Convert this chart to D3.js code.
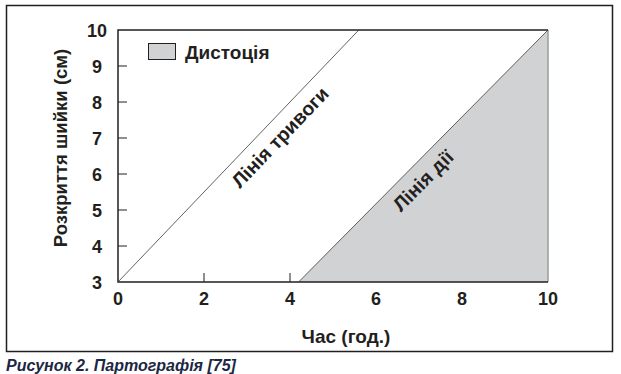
<!DOCTYPE html>
<html>
<head>
<meta charset="utf-8">
<script src="https://cdn.jsdelivr.net/npm/d3@7.9.0/dist/d3.min.js"></script>
<style>
  body { margin: 0; background: #fff; }
  svg { display: block; font-family: 'Liberation Sans', Arial, sans-serif; }
  .tick-label { font-size: 18px; font-weight: bold; fill: #231f20; }
</style>
</head>
<body>
<svg width="621" height="374"></svg>
<script>
// partograph data
const xTicks = [0, 2, 4, 6, 8, 10];
const yTicks = [3, 4, 5, 6, 7, 8, 9, 10];
const alertHours = [0, 5.6];
const alertDilation = [3, 10];
const actionHours = [4.2, 10];
const actionDilation = [3, 10];
const lineLabels = ['Лінія тривоги', 'Лінія дії'];
const labelDilation = [7.35, 6.15]; // where along each line the label sits
const legendLabel = 'Дистоція';

const svg = d3.select('svg');
const margin = { left: 118, right: 73, top: 30, bottom: 92 };
const width = 621 - margin.left - margin.right;
const height = 374 - margin.top - margin.bottom;

const x = d3.scaleLinear().domain([0, 10]).range([margin.left, margin.left + width]);
const y = d3.scaleLinear().domain([3, 10]).range([margin.top + height, margin.top]);

// outer frame
svg.append('rect')
  .attr('x', 6.5).attr('y', 5.5)
  .attr('width', 606).attr('height', 346)
  .attr('fill', 'none').attr('stroke', '#231f20').attr('stroke-width', 1.5);

// ticks (inward)
const g = svg.append('g');
g.selectAll('.xt').data(xTicks.slice(1, -1)).join('line')
  .attr('x1', (d) => x(d)).attr('x2', (d) => x(d))
  .attr('y1', y(3)).attr('y2', y(3) - 9)
  .attr('stroke', '#231f20').attr('stroke-width', 1);
g.selectAll('.yt').data(yTicks.slice(1, -1)).join('line')
  .attr('x1', x(0)).attr('x2', x(0) + 9)
  .attr('y1', (d) => y(d)).attr('y2', (d) => y(d))
  .attr('stroke', '#231f20').attr('stroke-width', 1);

// dystocia area right of the action line
const areaPts = actionHours.map((h, i) => [h, actionDilation[i]]);
areaPts.push([d3.max(xTicks), d3.min(yTicks)]);
svg.append('path')
  .attr('d', d3.line().x((d) => x(d[0])).y((d) => y(d[1]))(areaPts) + 'Z')
  .attr('fill', '#d1d2d4');
svg.append('line')
  .attr('x1', x(10)).attr('x2', x(10)).attr('y1', y(10)).attr('y2', y(3))
  .attr('stroke', '#9a9b9d').attr('stroke-width', 1.5);

// plot frame: top, left, bottom
svg.append('path')
  .attr('d', `M${x(10)},${y(10)}H${x(0)}V${y(3)}H${x(10)}`)
  .attr('fill', 'none').attr('stroke', '#231f20').attr('stroke-width', 1.5);

// alert and action lines
const lines = [
  alertHours.map((h, i) => [h, alertDilation[i]]),
  actionHours.map((h, i) => [h, actionDilation[i]]),
];
const lineGen = d3.line().x((d) => x(d[0])).y((d) => y(d[1]));
lines.forEach((pts) => {
  svg.append('path').attr('d', lineGen(pts))
    .attr('fill', 'none').attr('stroke', '#3a3a3a').attr('stroke-width', 0.8);
});

// labels along the lines
lines.forEach((pts, i) => {
  const [p0, p1] = pts;
  const dx = x(p1[0]) - x(p0[0]);
  const dy = y(p1[1]) - y(p0[1]);
  const ang = Math.atan2(dy, dx);
  const t = (labelDilation[i] - p0[1]) / (p1[1] - p0[1]);
  const h = p0[0] + t * (p1[0] - p0[0]);
  svg.append('text')
    .attr('transform', `translate(${x(h)},${y(labelDilation[i])}) rotate(${ang * 180 / Math.PI}) translate(0,24)`)
    .attr('text-anchor', 'middle')
    .style('font-size', '19.5px').style('font-weight', 'bold').attr('fill', '#231f20')
    .text(lineLabels[i]);
});

// tick labels
svg.selectAll('.xl').data(xTicks).join('text')
  .attr('class', 'tick-label')
  .attr('x', (d) => x(d)).attr('y', y(3) + 23)
  .attr('text-anchor', 'middle')
  .text((d) => d);
svg.selectAll('.yl').data(yTicks).join('text')
  .attr('class', 'tick-label')
  .attr('x', x(0) - 21).attr('y', (d) => y(d) + 6.5)
  .attr('text-anchor', 'middle')
  .text((d) => d);

// axis titles
svg.append('text')
  .attr('transform', `translate(67,${(y(3) + y(10)) / 2 - 8}) rotate(-90)`)
  .attr('text-anchor', 'middle')
  .style('font-size', '18.5px').style('font-weight', 'bold').attr('fill', '#231f20')
  .text('Розкриття шийки (см)');
svg.append('text')
  .attr('x', 346).attr('y', 343)
  .attr('text-anchor', 'middle')
  .style('font-size', '19px').style('font-weight', 'bold').attr('fill', '#231f20')
  .text('Час (год.)');

// legend
svg.append('rect')
  .attr('x', 148.5).attr('y', 43.5).attr('width', 27).attr('height', 16)
  .attr('fill', '#d1d2d4').attr('stroke', '#231f20').attr('stroke-width', 1);
svg.append('text')
  .attr('x', 185).attr('y', 59)
  .style('font-size', '19px').style('font-weight', 'bold').attr('fill', '#231f20')
  .text(legendLabel);

// caption
svg.append('text')
  .attr('x', 6).attr('y', 371)
  .style('font-size', '16px').style('font-weight', 'bold').style('font-style', 'italic')
  .attr('fill', '#1c2743')
  .text('Рисунок 2. Партографія [75]');
</script>
</body>
</html>
